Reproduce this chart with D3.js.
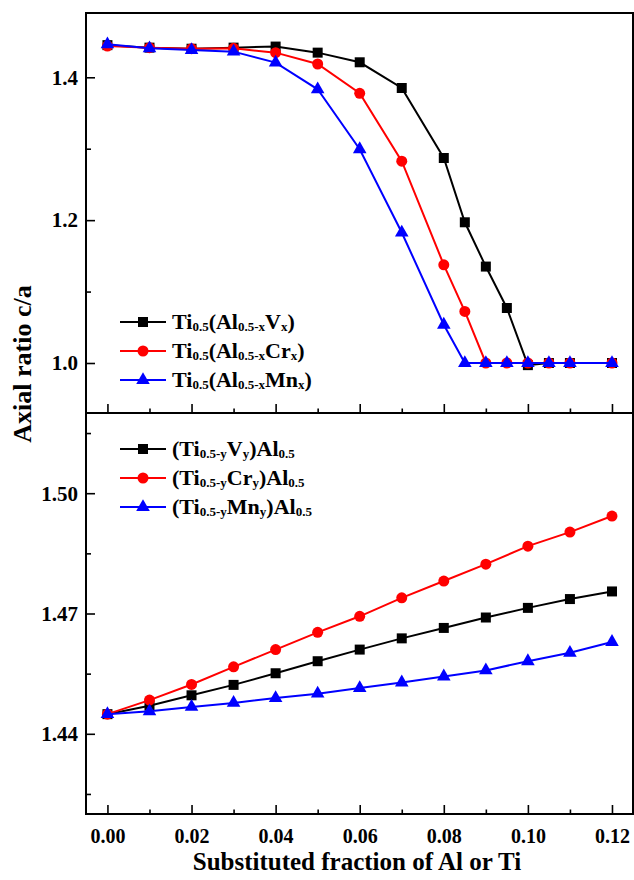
<!DOCTYPE html>
<html>
<head>
<meta charset="utf-8">
<script src="https://cdnjs.cloudflare.com/ajax/libs/d3/7.8.5/d3.min.js"></script>
<style>
	body{margin:0;background:#fff;}
	text{font-family:"Liberation Serif","Times New Roman",serif;font-weight:bold;fill:#000;}
</style>
</head>
<body>
<svg id="chart"></svg>
<script>
/*************** data *****************/
var xTop = [0,0.01,0.02,0.03,0.04,0.05,0.06,0.07,0.08,0.085,0.09,0.095,0.10,0.105,0.11,0.12];
var topV  = [1.445,1.4415,1.440,1.4415,1.443,1.4345,1.421,1.385,1.287,1.197,1.135,1.077,0.997,1.0,1.0,1.0];
var topCr = [1.4438,1.4415,1.440,1.4405,1.4345,1.4186,1.3776,1.2825,1.1375,1.0722,1.0,1.0,1.0,1.0,1.0,1.0];
var topMn = [1.4461,1.4405,1.4382,1.4359,1.4205,1.3832,1.2993,1.1827,1.0536,1.0,1.0,1.0,1.0,1.0,1.0,1.0];

var xBot = [0,0.01,0.02,0.03,0.04,0.05,0.06,0.07,0.08,0.09,0.10,0.11,0.12];
var botV  = [1.4449,1.447,1.4496,1.4522,1.4551,1.4581,1.461,1.4638,1.4664,1.469,1.4714,1.4736,1.4755];
var botCr = [1.4449,1.4484,1.4523,1.4567,1.461,1.4653,1.4693,1.4739,1.4781,1.4823,1.4868,1.4903,1.4943];
var botMn = [1.4449,1.4456,1.4467,1.4477,1.4489,1.45,1.4514,1.4528,1.4543,1.4558,1.4581,1.4602,1.4629];

var xMajor = [0,0.02,0.04,0.06,0.08,0.10,0.12];
var xMinor = [0.01,0.03,0.05,0.07,0.09,0.11];
var topMajor = [1.0,1.2,1.4];
var topMinor = [1.1,1.3];
var botMajor = [1.44,1.47,1.50];
var botMinor = [1.425,1.455,1.485,1.515];

//legend labels: [text, isSubscript]
var topNames = [
	[["Ti",0],["0.5",1],["(Al",0],["0.5-x",1],["V",0],["x",1],[")",0]],
	[["Ti",0],["0.5",1],["(Al",0],["0.5-x",1],["Cr",0],["x",1],[")",0]],
	[["Ti",0],["0.5",1],["(Al",0],["0.5-x",1],["Mn",0],["x",1],[")",0]]
];
var botNames = [
	[["(Ti",0],["0.5-y",1],["V",0],["y",1],[")Al",0],["0.5",1]],
	[["(Ti",0],["0.5-y",1],["Cr",0],["y",1],[")Al",0],["0.5",1]],
	[["(Ti",0],["0.5-y",1],["Mn",0],["y",1],[")Al",0],["0.5",1]]
];
var colors = ["#000000","#ff0000","#0000ff"];
var shapes = [d3.symbolSquare,d3.symbolCircle,d3.symbolTriangle];
var shapeSizes = [100,95,80];
/*************** end data *****************/

var width = 634,
	height = 880,
	frameLeft = 86,
	frameRight = 633,
	frameTop = 13,
	frameMid = 413,
	frameBottom = 814;

var svg = d3.select("#chart")
	.attr("width",width)
	.attr("height",height);

/*********** scales ****************************************/
var x = d3.scaleLinear().domain([-0.0051,0.125]).range([frameLeft,frameRight]);
var yTop = d3.scaleLinear().domain([0.93,1.49]).range([frameMid,frameTop]);
var yBot = d3.scaleLinear().domain([1.42,1.52]).range([frameBottom,frameMid]);
/*********** end of scales *********************************/

/*********** axes ******************************************/
function ticks(g,axis){
	g.call(axis);
	g.select(".domain").remove();
	g.selectAll(".tick line").attr("stroke","#000").attr("stroke-width",1.6);
	g.selectAll("text").style("font-size","20px");
}

//x axis at the bottom of each panel, ticks pointing inward
[frameMid,frameBottom].forEach(function(yPos,i){
	var gMaj = svg.append("g").attr("transform","translate(0,"+yPos+")");
	ticks(gMaj,d3.axisBottom(x).tickValues(xMajor).tickSize(-9)
		.tickFormat(i==1 ? d3.format(".2f") : ""));
	gMaj.selectAll("text").attr("y",29).attr("dy",0);
	var gMin = svg.append("g").attr("transform","translate(0,"+yPos+")");
	ticks(gMin,d3.axisBottom(x).tickValues(xMinor).tickSize(-4.5).tickFormat(""));
});

//y axes
function yAxis(scale,major,minor,fmt){
	var g = svg.append("g").attr("transform","translate("+frameLeft+",0)");
	ticks(g,d3.axisRight(scale).tickValues(major).tickSize(9).tickFormat(""));
	var g2 = svg.append("g").attr("transform","translate("+frameLeft+",0)");
	ticks(g2,d3.axisRight(scale).tickValues(minor).tickSize(5).tickFormat(""));
	svg.append("g").selectAll("text")
		.data(major)
		.enter().append("text")
			.attr("x",frameLeft-8)
			.attr("y",function(d){return scale(d);})
			.attr("dy","0.35em")
			.attr("text-anchor","end")
			.style("font-size","21px")
			.text(function(d){return d3.format(fmt)(d);});
}
yAxis(yTop,topMajor,topMinor,".1f");
yAxis(yBot,botMajor,botMinor,".2f");

//frame
svg.append("rect")
	.attr("x",frameLeft).attr("y",frameTop)
	.attr("width",frameRight-frameLeft).attr("height",frameBottom-frameTop)
	.attr("fill","none").attr("stroke","#000").attr("stroke-width",2);
svg.append("line")
	.attr("x1",frameLeft).attr("x2",frameRight)
	.attr("y1",frameMid).attr("y2",frameMid)
	.attr("stroke","#000").attr("stroke-width",2);

//axis titles
svg.append("text")
	.attr("x",357)
	.attr("y",870)
	.attr("text-anchor","middle")
	.style("font-size","25px")
	.text("Substituted fraction of Al or Ti");
svg.append("text")
	.attr("transform","translate(31,364) rotate(-90)")
	.attr("text-anchor","middle")
	.style("font-size","26px")
	.text("Axial ratio c/a");
/*********** end axes **************************************/

/***************** series **********************************/
function drawSeries(xs,ys,scale,i){
	var pts = xs.map(function(d,k){return [d,ys[k]];});
	var line = d3.line()
		.x(function(d){return x(d[0]);})
		.y(function(d){return scale(d[1]);});
	var g = svg.append("g");
	g.append("path")
		.attr("d",line(pts))
		.attr("fill","none")
		.attr("stroke",colors[i])
		.attr("stroke-width",2);
	g.selectAll("path.mark")
		.data(pts)
		.enter().append("path")
			.classed("mark",true)
			.attr("transform",function(d){return "translate("+x(d[0])+","+scale(d[1])+")";})
			.attr("d",d3.symbol().type(shapes[i]).size(shapeSizes[i]))
			.attr("fill",colors[i]);
}
[topV,topCr,topMn].forEach(function(s,i){drawSeries(xTop,s,yTop,i);});
[botV,botCr,botMn].forEach(function(s,i){drawSeries(xBot,s,yBot,i);});
/***************** end series ******************************/

/***************** legends *********************************/
function legend(names,y0){
	names.forEach(function(parts,i){
		var yy = y0 + i*29;
		var g = svg.append("g");
		g.append("line")
			.attr("x1",120).attr("x2",166)
			.attr("y1",yy).attr("y2",yy)
			.attr("stroke",colors[i]).attr("stroke-width",2);
		g.append("path")
			.attr("transform","translate(143,"+yy+")")
			.attr("d",d3.symbol().type(shapes[i]).size(shapeSizes[i]))
			.attr("fill",colors[i]);
		var t = g.append("text")
			.attr("x",172)
			.attr("y",yy+7)
			.style("font-size","22px");
		var shift = 0;
		parts.forEach(function(p){
			var dy = p[1] ? 2-shift : -shift;
			shift += dy;
			t.append("tspan")
				.attr("dy",dy)
				.style("font-size",p[1] ? "13px" : "22px")
				.text(p[0]);
		});
	});
}
legend(topNames,322);
legend(botNames,449);
/***************** end legends *****************************/
</script>
</body>
</html>
